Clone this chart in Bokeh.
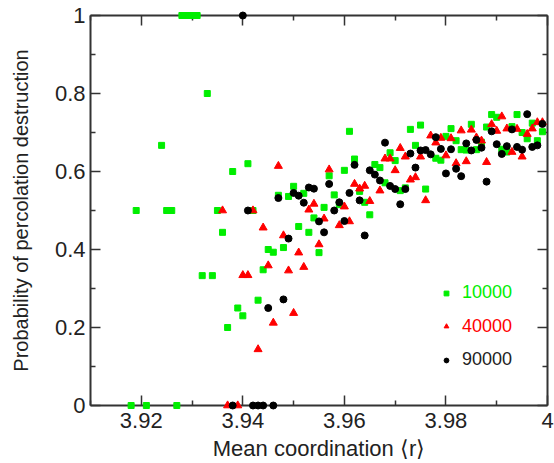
from bokeh.plotting import figure
from bokeh.models import (FixedTicker, LinearAxis, Range1d, CustomJSTickFormatter,
                          Legend, LegendItem)
from bokeh.embed import file_html
from bokeh.resources import INLINE

# ---------------- data ----------------
x_10000 = [3.918, 3.921, 3.927, 3.919, 3.925, 3.926, 3.924, 3.928, 3.929, 3.930, 3.931,
           3.933, 3.938, 3.941, 3.935, 3.942, 3.936, 3.932, 3.934, 3.945, 3.944, 3.943,
           3.937, 3.939, 3.940, 3.946, 3.947, 3.948, 3.949, 3.950, 3.951, 3.952, 3.953,
           3.954, 3.955, 3.956, 3.957, 3.958, 3.959, 3.960, 3.961, 3.962, 3.963, 3.964,
           3.965, 3.966, 3.967, 3.968, 3.969, 3.970, 3.971, 3.972, 3.973, 3.974, 3.975,
           3.976, 3.978, 3.979, 3.980, 3.981, 3.982, 3.983, 3.984, 3.985, 3.986, 3.987,
           3.988, 3.989, 3.990, 3.991, 3.992, 3.993, 3.994, 3.995, 3.996, 3.997, 3.998, 3.999]
y_10000 = [0, 0, 0, 0.5, 0.5, 0.5, 0.667, 1, 1, 1, 1,
           0.8, 0.6, 0.62, 0.5, 0.5, 0.444, 0.333, 0.333, 0.4, 0.348, 0.27,
           0.2, 0.25, 0.23, 0.393, 0.539, 0.405, 0.536, 0.562, 0.459, 0.544, 0.444,
           0.481, 0.392, 0.508, 0.589, 0.54, 0.515, 0.603, 0.703, 0.632, 0.549, 0.521,
           0.489, 0.618, 0.61, 0.571, 0.648, 0.628, 0.551, 0.558, 0.708, 0.667, 0.719,
           0.555, 0.634, 0.629, 0.69, 0.71, 0.679, 0.656, 0.655, 0.721, 0.656, 0.675,
           0.714, 0.746, 0.739, 0.657, 0.65, 0.715, 0.746, 0.7, 0.684, 0.724, 0.679, 0.702]

x_40000 = [3.937, 3.939, 3.936, 3.940, 3.941, 3.942, 3.943, 3.944, 3.945, 3.946, 3.947,
           3.948, 3.949, 3.950, 3.951, 3.952, 3.953, 3.954, 3.955, 3.956, 3.957, 3.959,
           3.960, 3.961, 3.962, 3.963, 3.964, 3.965, 3.967, 3.968, 3.969, 3.970, 3.971,
           3.972, 3.973, 3.974, 3.975, 3.976, 3.977, 3.978, 3.979, 3.980, 3.981, 3.982,
           3.983, 3.984, 3.985, 3.986, 3.987, 3.988, 3.989, 3.990, 3.991, 3.992, 3.993,
           3.994, 3.995, 3.996, 3.997, 3.998, 3.999]
y_40000 = [0, 0, 0.5, 0.334, 0.334, 0.5, 0.144, 0.456, 0.359, 0.212, 0.614,
           0.436, 0.346, 0.237, 0.392, 0.355, 0.502, 0.517, 0.413, 0.479, 0.605, 0.462,
           0.51, 0.472, 0.568, 0.556, 0.563, 0.524, 0.551, 0.633, 0.633, 0.603, 0.66,
           0.638, 0.579, 0.585, 0.638, 0.526, 0.692, 0.674, 0.686, 0.641, 0.685, 0.621,
           0.705, 0.626, 0.707, 0.687, 0.679, 0.624, 0.721, 0.704, 0.741, 0.71, 0.65,
           0.709, 0.638, 0.696, 0.71, 0.726, 0.726]

x_90000 = [3.938, 3.940, 3.941, 3.942, 3.943, 3.944, 3.945, 3.946, 3.947, 3.948, 3.949,
           3.950, 3.951, 3.952, 3.953, 3.954, 3.955, 3.956, 3.957, 3.958, 3.959, 3.960,
           3.961, 3.962, 3.963, 3.964, 3.965, 3.966, 3.967, 3.968, 3.969, 3.970, 3.971,
           3.972, 3.973, 3.974, 3.975, 3.976, 3.977, 3.978, 3.979, 3.980, 3.981, 3.982,
           3.983, 3.984, 3.985, 3.986, 3.987, 3.988, 3.989, 3.990, 3.991, 3.992, 3.993,
           3.994, 3.995, 3.996, 3.997, 3.998, 3.999]
y_90000 = [0, 1, 0.5, 0, 0, 0, 0.25, 0, 0.532, 0.272, 0.428,
           0.545, 0.538, 0.52, 0.559, 0.556, 0.472, 0.444, 0.568, 0.5, 0.521, 0.473,
           0.545, 0.617, 0.526, 0.436, 0.603, 0.592, 0.577, 0.674, 0.563, 0.555, 0.516,
           0.555, 0.646, 0.61, 0.654, 0.655, 0.644, 0.688, 0.658, 0.595, 0.657, 0.607,
           0.588, 0.672, 0.654, 0.681, 0.661, 0.574, 0.703, 0.67, 0.645, 0.665, 0.708,
           0.663, 0.656, 0.747, 0.663, 0.667, 0.722]

series_labels = ["10000", "40000", "90000"]
x_major = [3.92, 3.94, 3.96, 3.98, 4.0]
x_minor = [3.91, 3.93, 3.95, 3.97, 3.99]
y_major = [0, 0.2, 0.4, 0.6, 0.8, 1.0]
y_minor = [0.1, 0.3, 0.5, 0.7, 0.9]

GREEN = "#00ee00"
RED = "#ff0000"
BLACK = "#000000"
FONT = "Liberation Sans"
AXC = "#333333"
TXT = "#222222"

p = figure(width=554, height=463, output_backend="svg", toolbar_location=None,
           x_range=Range1d(3.91, 4.0), y_range=Range1d(0, 1),
           min_border_left=90, min_border_right=7, min_border_top=15, min_border_bottom=58,
           x_axis_label="Mean coordination \u27e8r\u27e9",
           y_axis_label="Probability of percolation destruction")
p.grid.visible = False
p.outline_line_color = None
p.background_fill_color = "white"
p.border_fill_color = "white"

fmt = CustomJSTickFormatter(code="return String(Number(tick.toFixed(2)));")
blank_fmt = CustomJSTickFormatter(code="return '';")

def style_axis(ax, show_labels):
    ax.axis_line_color = AXC
    ax.axis_line_width = 2
    ax.major_tick_line_color = AXC
    ax.minor_tick_line_color = AXC
    ax.major_tick_line_width = 1.5
    ax.minor_tick_line_width = 1.5
    ax.major_tick_in = 10
    ax.major_tick_out = 0
    ax.minor_tick_in = 5
    ax.minor_tick_out = 0
    if show_labels:
        ax.formatter = fmt
        ax.major_label_text_font = FONT
        ax.major_label_text_font_size = "22px"
        ax.major_label_text_color = TXT
        ax.axis_label_text_font = FONT
        ax.axis_label_text_font_style = "normal"
        ax.axis_label_text_color = TXT
    else:
        ax.formatter = blank_fmt
        ax.major_label_text_color = None
        ax.major_label_standoff = 0
        ax.axis_label = None

p.xaxis[0].ticker = FixedTicker(ticks=x_major, minor_ticks=x_minor)
p.yaxis[0].ticker = FixedTicker(ticks=y_major, minor_ticks=y_minor)
style_axis(p.xaxis[0], True)
style_axis(p.yaxis[0], True)
p.xaxis[0].axis_label_text_font_size = "22px"
p.yaxis[0].axis_label_text_font_size = "20px"
p.xaxis[0].major_label_standoff = 7
p.xaxis[0].axis_label_standoff = 5
p.yaxis[0].major_label_standoff = 5
p.yaxis[0].axis_label_standoff = 20

top_ax = LinearAxis(ticker=FixedTicker(ticks=x_major, minor_ticks=x_minor))
right_ax = LinearAxis(ticker=FixedTicker(ticks=y_major, minor_ticks=y_minor))
style_axis(top_ax, False)
style_axis(right_ax, False)
p.add_layout(top_ax, "above")
p.add_layout(right_ax, "right")

r1 = p.scatter(x_10000, y_10000, marker="square", size=6, fill_color=GREEN,
               line_color=GREEN, level="overlay")
r2 = p.scatter(x_40000, y_40000, marker="triangle", size=8, fill_color=RED,
               line_color=RED, level="overlay")
r3 = p.scatter(x_90000, y_90000, marker="circle", size=7, fill_color=BLACK,
               line_color=BLACK, level="overlay")

for lbl, rend, col, ypos in [(series_labels[0], r1, GREEN, 101.7),
                              (series_labels[1], r2, RED, 68.3),
                              (series_labels[2], r3, TXT, 35)]:
    lg = Legend(items=[LegendItem(label=lbl, renderers=[rend])], location=(350, ypos),
                padding=0, margin=0, spacing=0, glyph_width=12, glyph_height=20,
                label_height=20, label_standoff=10, border_line_color=None,
                background_fill_alpha=0, label_text_font=FONT,
                label_text_font_size="18px", label_text_color=col)
    p.add_layout(lg)

open("out.html", "w").write(file_html(p, INLINE))
